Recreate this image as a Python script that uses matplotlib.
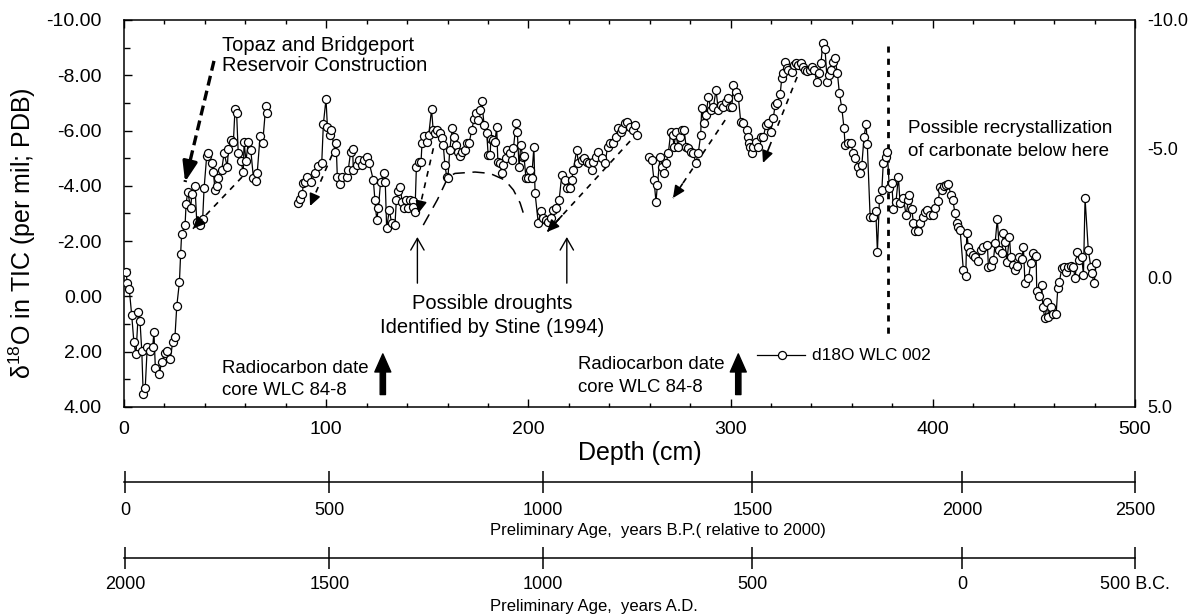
import matplotlib
matplotlib.use('Agg')
import matplotlib.pyplot as plt
from matplotlib.ticker import FixedLocator, MultipleLocator

plt.rcParams['font.family'] = ['Liberation Sans', 'DejaVu Sans']
plt.rcParams['mathtext.fontset'] = 'custom'
plt.rcParams['mathtext.rm'] = 'Liberation Sans'
plt.rcParams['mathtext.it'] = 'Liberation Sans:italic'
plt.rcParams['mathtext.bf'] = 'Liberation Sans:bold'

# ---------------- data: (depth cm, d18O per mil) ----------------
seg_a = [(1.0, -0.89), (1.6, -0.50), (2.6, -0.26), (3.8, 0.67), (4.9, 1.66), (5.9, 2.10),
         (7.1, 0.55), (7.9, 0.88), (8.8, 1.98), (9.5, 3.53), (10.5, 3.30), (11.5, 1.82),
         (12.9, 1.98), (14.2, 1.82), (14.8, 1.30), (15.5, 2.58), (17.5, 2.82), (18.6, 2.36),
         (20.3, 2.06), (21.1, 1.98), (22.8, 2.28), (24.1, 1.66), (25.2, 1.46), (26.1, 0.35),
         (27.4, -0.51), (28.0, -1.52), (28.5, -2.26), (30.2, -2.58), (30.7, -3.33), (31.5, -3.79),
         (33.0, -3.19), (33.5, -3.69), (35.1, -4.00), (36.0, -2.68), (37.6, -2.58), (38.9, -2.80),
         (39.6, -3.91), (40.9, -5.08), (41.7, -5.18), (43.4, -4.82), (44.2, -4.51), (45.0, -3.85),
         (45.8, -3.99), (46.6, -4.27), (48.3, -4.57), (49.5, -5.18), (51.1, -4.69), (51.6, -5.32),
         (52.9, -5.66), (54.1, -5.60), (54.9, -6.78), (55.7, -6.62), (56.5, -5.18), (57.7, -4.90),
         (59.0, -4.51), (59.4, -5.60), (60.3, -4.90), (61.5, -5.60), (62.7, -5.30), (64.0, -4.29),
         (65.1, -4.19), (65.9, -4.48), (67.3, -5.81), (68.6, -5.56), (70.1, -6.89), (70.9, -6.65)]

seg_b = [(85.9, -3.37), (87.0, -3.51), (88.2, -3.70), (88.7, -4.11), (89.5, -4.15), (90.7, -4.33),
         (92.5, -4.15), (94.5, -4.45), (96.1, -4.73), (97.8, -4.84), (98.6, -6.24), (99.9, -7.14),
         (100.6, -6.14), (101.9, -5.84), (102.4, -6.02), (104.4, -5.24), (104.9, -5.56), (105.5, -4.33),
         (106.8, -4.07), (107.7, -4.33), (110.4, -4.31), (110.9, -4.57), (112.1, -5.24), (113.1, -5.32),
         (113.4, -4.57), (115.1, -4.75), (116.4, -4.93), (117.6, -4.75), (118.7, -4.93), (120.0, -5.03),
         (121.3, -4.82), (123.3, -4.21), (124.1, -3.49), (125.0, -2.76), (125.8, -3.19), (126.9, -4.15),
         (128.5, -4.45), (129.2, -4.15), (129.9, -2.46), (131.2, -3.13), (132.4, -2.64), (134.0, -2.58),
         (134.7, -3.49), (135.6, -3.80), (136.7, -3.97), (137.5, -3.42), (138.6, -3.19), (139.5, -3.49),
         (140.6, -3.19), (141.5, -3.49), (142.7, -3.47), (143.1, -3.25), (143.9, -3.06), (144.6, -4.67),
         (145.7, -4.87), (146.9, -4.87), (147.4, -5.56), (148.6, -5.80), (149.9, -5.60), (150.7, -5.84),
         (152.1, -6.77), (152.9, -6.02), (153.7, -5.92), (154.9, -6.02), (156.2, -5.90), (157.4, -5.72),
         (157.9, -5.48), (158.7, -4.75), (159.6, -4.33), (160.2, -4.27), (161.1, -5.30), (162.4, -6.08),
         (163.2, -5.78), (164.0, -5.48), (165.2, -5.24), (166.2, -5.08), (167.4, -5.24), (168.5, -5.30),
         (169.5, -5.56), (170.7, -5.56), (172.0, -6.02), (173.1, -6.41), (173.9, -6.65), (175.0, -6.38),
         (176.1, -6.74), (176.9, -7.08), (178.1, -6.20), (179.4, -5.90), (180.1, -5.12), (181.1, -5.12),
         (181.4, -5.68), (182.7, -5.66), (183.5, -5.60), (184.3, -6.14), (184.9, -4.87), (186.0, -4.81),
         (186.8, -4.45), (187.6, -4.75), (189.0, -4.99), (189.6, -5.30), (190.9, -5.18), (191.8, -4.93),
         (192.6, -5.36), (193.9, -6.28), (194.5, -5.96), (195.4, -4.67), (196.2, -5.48), (197.2, -5.06),
         (197.8, -5.08), (198.8, -4.27), (200.0, -4.27), (200.8, -4.57), (201.6, -4.27), (202.7, -5.39),
         (203.3, -3.73), (204.9, -2.64), (206.1, -3.10), (207.4, -2.82), (208.6, -2.76), (209.9, -2.70),
         (211.2, -2.83), (212.3, -3.13), (213.5, -3.19), (215.2, -3.49), (216.5, -4.39), (218.1, -4.21),
         (219.0, -3.91), (220.6, -3.91), (221.4, -4.21), (222.2, -4.57), (223.9, -5.30), (224.7, -4.82),
         (226.4, -4.93), (227.5, -5.00), (228.8, -4.87), (230.1, -4.82), (231.3, -4.57), (232.1, -4.87),
         (233.4, -5.05), (234.6, -5.24), (236.3, -5.00), (237.9, -4.82), (239.2, -5.42), (240.4, -5.54),
         (242.0, -5.54), (243.2, -5.78), (244.5, -6.08), (245.7, -5.96), (246.5, -6.05), (247.8, -6.26),
         (248.9, -6.32), (250.3, -6.14), (251.6, -6.02), (252.7, -6.20), (253.6, -5.84)]

seg_c = [(259.8, -5.05), (261.0, -4.93), (262.1, -4.21), (263.1, -3.43), (263.8, -4.03), (265.1, -5.05),
         (266.2, -4.69), (267.2, -4.45), (268.1, -4.82), (269.2, -5.18), (270.4, -5.96), (271.4, -5.84),
         (272.0, -5.42), (273.0, -5.96), (273.9, -5.42), (275.0, -5.78), (275.8, -6.02), (277.0, -6.02),
         (278.0, -5.42), (279.1, -5.36), (280.3, -5.24), (281.6, -5.18), (282.8, -4.82), (284.0, -5.18),
         (285.2, -5.84), (285.7, -6.81), (286.9, -6.26), (287.9, -6.56), (289.0, -7.23), (290.3, -6.74),
         (291.5, -6.86), (292.8, -7.47), (293.9, -6.74), (295.1, -6.92), (296.4, -6.86), (297.6, -7.04),
         (298.9, -7.17), (299.7, -6.86), (300.6, -6.86), (301.4, -7.65), (302.7, -7.41), (303.8, -7.23),
         (305.0, -6.32), (306.3, -6.26), (308.0, -6.02), (308.8, -5.78), (309.3, -5.54), (309.6, -5.42),
         (310.5, -5.18), (311.3, -5.42), (312.6, -5.60), (313.7, -5.42), (314.9, -5.78), (316.2, -5.78),
         (317.5, -6.20), (318.7, -6.26), (319.8, -5.96), (321.1, -6.44), (322.0, -6.92), (322.8, -6.99),
         (324.5, -7.31), (325.3, -7.89), (326.1, -8.07), (326.9, -8.49), (328.1, -8.25), (328.6, -8.19),
         (330.2, -8.13), (331.4, -8.37), (332.4, -8.43), (333.5, -8.37), (334.7, -8.43), (335.7, -8.31),
         (336.8, -8.19), (338.0, -8.17), (339.3, -8.19), (340.1, -8.31), (341.4, -8.19), (342.6, -7.77),
         (343.9, -8.07), (344.7, -8.46), (345.6, -9.16), (346.7, -8.94), (347.8, -7.77), (348.8, -8.01),
         (349.7, -8.19), (350.5, -8.49), (351.6, -8.61), (352.8, -8.09), (353.8, -7.35), (355.0, -6.81),
         (356.1, -6.08), (356.6, -5.48), (358.2, -5.54), (359.4, -5.54), (360.7, -5.18), (361.5, -5.00),
         (363.2, -4.69), (364.0, -4.48), (364.9, -4.75), (366.0, -5.78), (367.0, -6.24), (367.6, -5.51),
         (369.0, -2.88), (370.3, -2.88), (371.8, -3.09), (372.6, -1.62), (373.6, -3.51), (374.8, -3.85),
         (375.5, -4.82), (376.9, -5.05), (377.5, -5.24), (378.5, -3.91), (379.7, -4.11), (380.5, -3.15),
         (381.8, -3.43), (383.0, -4.33), (383.8, -3.37), (385.4, -3.57), (386.8, -2.94), (387.9, -3.49),
         (388.4, -3.67), (389.6, -3.16), (390.4, -2.67), (391.2, -2.37), (392.9, -2.37), (393.7, -2.64),
         (395.0, -2.88), (396.2, -3.06), (397.3, -3.13), (398.6, -2.94), (400.0, -2.94), (401.1, -3.19),
         (402.7, -3.46), (403.6, -3.97), (404.4, -3.85), (405.6, -3.99), (406.6, -4.03), (407.7, -4.07),
         (408.9, -3.67), (409.9, -3.49), (411.0, -3.01), (411.8, -2.64), (412.6, -2.52), (413.5, -2.40),
         (415.1, -0.96), (416.3, -0.74), (416.8, -2.28), (417.6, -1.80), (418.4, -1.62), (419.8, -1.50),
         (420.9, -1.41), (422.5, -1.29), (423.7, -1.68), (425.0, -1.78), (427.0, -1.86), (427.5, -1.07),
         (428.7, -1.10), (430.0, -1.32), (430.8, -1.92), (431.9, -2.80), (432.9, -1.68), (434.1, -1.58),
         (434.9, -2.28), (435.7, -1.98), (436.6, -1.26), (437.9, -2.16), (438.6, -1.41), (439.9, -1.14),
         (440.7, -0.96), (441.5, -1.10), (442.8, -1.41), (444.0, -1.34), (444.8, -1.78), (445.6, -0.47),
         (447.3, -0.68), (448.5, -1.20), (449.4, -1.58), (451.1, -1.46), (451.4, -0.21), (452.7, -0.01),
         (453.9, -0.41), (454.4, 0.39), (455.5, 0.79), (456.7, 0.19), (457.2, 0.73), (458.3, 0.39),
         (459.3, 0.65), (461.0, 0.65), (461.8, -0.29), (462.6, -0.53), (463.8, -1.02), (464.9, -1.05),
         (465.9, -0.89), (467.0, -1.07), (468.2, -1.10), (469.5, -1.05), (470.4, -0.65), (471.5, -1.62),
         (472.5, -1.32), (473.7, -1.41), (474.5, -0.77), (475.3, -3.55), (476.9, -1.68), (478.1, -1.07),
         (478.6, -0.84), (479.8, -0.47), (480.8, -1.22)]

# ---------------- axes ticks / labels ----------------
depth_ticks = [0, 100, 200, 300, 400, 500]
left_ticks = [-10, -8, -6, -4, -2, 0, 2, 4]
left_labels = ['-10.00', '-8.00', '-6.00', '-4.00', '-2.00', '0.00', '2.00', '4.00']
right_ticks = [-10, -5, 0, 5]
right_labels = ['-10.0', '-5.0', '0.0', '5.0']
age_tick_depth = [0.5, 101.6, 207.2, 310.8, 414.6, 500.0]
bp_labels = ['0', '500', '1000', '1500', '2000', '2500']
ad_labels = ['2000', '1500', '1000', '500', '0', '500 B.C.']

# ---------------- annotation geometry (data coords) ----------------
drought_curve_d = [148.0, 155.0, 160.4, 163.7, 173.6, 181.0, 188.4, 192.6, 195.9, 198.3]
drought_curve_v = [-2.58, -3.50, -4.33, -4.45, -4.50, -4.45, -4.21, -3.85, -3.38, -2.83]
thin_arrows = [((58.4, -4.32), (34.1, -2.45)),
               ((102.9, -5.12), (92.0, -3.27)),
               ((153.0, -5.36), (145.6, -3.01)),
               ((250.3, -5.62), (209.2, -2.33)),
               ((297.3, -6.38), (271.5, -3.56)),
               ((332.9, -7.94), (316.0, -4.83))]
topaz_arrow = ((44.5, -8.52), (30.2, -4.14))
drought_arrow_depths = [145.1, 219.0]
radiocarbon_depths = [128.0, 303.8]
recryst_depth = 378.0

fig = plt.figure(figsize=(11.96, 6.16), dpi=100)
ax = fig.add_axes([0.10368, 0.33929, 0.84532, 0.62825])

for seg in (seg_a, seg_b, seg_c):
    d, v = zip(*seg)
    ax.plot(d, v, '-o', color='k', lw=0.9, ms=5.8, mfc='white', mec='k', mew=0.9, zorder=3)

ax.set_xlim(0, 500)
ax.set_ylim(4, -10)
ax.xaxis.set_major_locator(FixedLocator(depth_ticks))
ax.xaxis.set_minor_locator(MultipleLocator(20))
ax.set_xticklabels([str(t) for t in depth_ticks])
ax.yaxis.set_major_locator(FixedLocator(left_ticks))
ax.yaxis.set_minor_locator(MultipleLocator(1))
ax.set_yticklabels(left_labels)
ax.tick_params(axis='x', which='major', direction='in', length=6, width=1, top=True,
               labelsize=14, pad=10)
ax.tick_params(axis='x', which='minor', direction='in', length=3, width=1, top=True)
ax.tick_params(axis='y', which='major', direction='in', length=6, width=1, right=False,
               labelsize=14, pad=16)
ax.tick_params(axis='y', which='minor', direction='in', length=4, width=1, right=False)
for s in ax.spines.values():
    s.set_linewidth(1.1)

ax.set_xlabel('Depth (cm)', fontsize=18)
ax.xaxis.set_label_coords(0.510, -0.119)
ax.xaxis.label.set_va('center')
ax.set_ylabel(r'δ$^{18}$O in TIC (per mil; PDB)', fontsize=18)
ax.yaxis.set_label_coords(-0.101, 0.45)
ax.yaxis.label.set_va('center')

axr = ax.twinx()
axr.set_ylim(5, -10)
axr.yaxis.set_major_locator(FixedLocator(right_ticks))
axr.set_yticklabels(right_labels)
axr.tick_params(axis='y', length=0, pad=9, labelsize=13)
for s in axr.spines.values():
    s.set_visible(False)

# ---- annotations ----
ax.plot(drought_curve_d, drought_curve_v, color='k', lw=1.1, ls=(0, (8, 5)), zorder=2)

def dashed_arrow(tail, tip, lw, dash, hl, hw, ms, style='-|>'):
    ax.plot([tail[0], tip[0]], [tail[1], tip[1]], color='k', lw=lw, ls=(0, dash), zorder=2)
    f = 0.18
    start = (tip[0] + f * (tail[0] - tip[0]), tip[1] + f * (tail[1] - tip[1]))
    ax.annotate('', xy=tip, xytext=start,
                arrowprops=dict(arrowstyle=f'{style},head_length={hl},head_width={hw}',
                                color='k', lw=lw, mutation_scale=ms, shrinkA=0, shrinkB=0))

for tail, tip in thin_arrows:
    dashed_arrow(tail, tip, 1.2, (3.5, 3.5), 0.6, 0.28, 12)

dashed_arrow(topaz_arrow[0], topaz_arrow[1], 2.4, (3.0, 1.6), 0.6, 0.22, 20)

for d in drought_arrow_depths:
    ax.annotate('', xy=(d, -2.15), xytext=(d, -0.48),
                arrowprops=dict(arrowstyle='->,head_length=0.7,head_width=0.4', color='k',
                                lw=1.0, mutation_scale=12, shrinkA=0, shrinkB=0))

for d in radiocarbon_depths:
    ax.annotate('', xy=(d, 2.08), xytext=(d, 3.55),
                arrowprops=dict(arrowstyle='simple,head_length=1.3,head_width=1.15,tail_width=0.38',
                                color='k', mutation_scale=10, shrinkA=0, shrinkB=0))

ax.plot([recryst_depth, recryst_depth], [-9.06, 1.40], color='k', lw=2.0, ls=(0, (2.2, 2.2)), zorder=2)

# texts
ax.text(48.5, -9.06, 'Topaz and Bridgeport', fontsize=14.5, ha='left', va='center')
ax.text(48.5, -8.37, 'Reservoir Construction', fontsize=14.5, ha='left', va='center')
ax.text(387.8, -6.09, 'Possible recrystallization', fontsize=13.5, ha='left', va='center')
ax.text(387.8, -5.26, 'of carbonate below here', fontsize=13.5, ha='left', va='center')
ax.text(182.0, 0.24, 'Possible droughts', fontsize=14.5, ha='center', va='center')
ax.text(182.0, 1.11, 'Identified by Stine (1994)', fontsize=14.5, ha='center', va='center')
ax.text(48.5, 2.59, 'Radiocarbon date', fontsize=13.4, ha='left', va='center')
ax.text(48.5, 3.39, 'core WLC 84-8', fontsize=13.4, ha='left', va='center')
ax.text(224.5, 2.45, 'Radiocarbon date', fontsize=13.4, ha='left', va='center')
ax.text(224.5, 3.28, 'core WLC 84-8', fontsize=13.4, ha='left', va='center')

# legend entry
ax.plot([312.9, 336.8], [2.12, 2.12], color='k', lw=0.9)
ax.plot([325.5], [2.12], 'o', ms=5.8, mfc='white', mec='k', mew=0.9)
ax.text(340.1, 2.12, 'd18O WLC 002', fontsize=12.4, ha='left', va='center')

# ---- secondary age axes ----
def age_axis(ybottom, labels, pad):
    a = fig.add_axes([0.10368, ybottom, 0.84532, 0.0001])
    a.set_xlim(0, 500)
    a.set_yticks([])
    for k in ('top', 'left', 'right'):
        a.spines[k].set_visible(False)
    a.spines['bottom'].set_linewidth(1.1)
    a.xaxis.set_major_locator(FixedLocator(age_tick_depth))
    a.set_xticklabels(labels)
    a.tick_params(axis='x', direction='inout', length=16, width=1.1, labelsize=13, pad=pad)
    a.patch.set_visible(False)
    return a

age_axis(1 - 482.3 / 616, bp_labels, 6)
age_axis(1 - 557.7 / 616, ad_labels, 5)
fig.text(490 / 1196, 1 - 530.7 / 616, 'Preliminary Age,  years B.P.( relative to 2000)',
         fontsize=12, ha='left', va='center')
fig.text(490 / 1196, 1 - 606.7 / 616, 'Preliminary Age,  years A.D.',
         fontsize=12, ha='left', va='center')

fig.savefig('out.png', dpi=100)
